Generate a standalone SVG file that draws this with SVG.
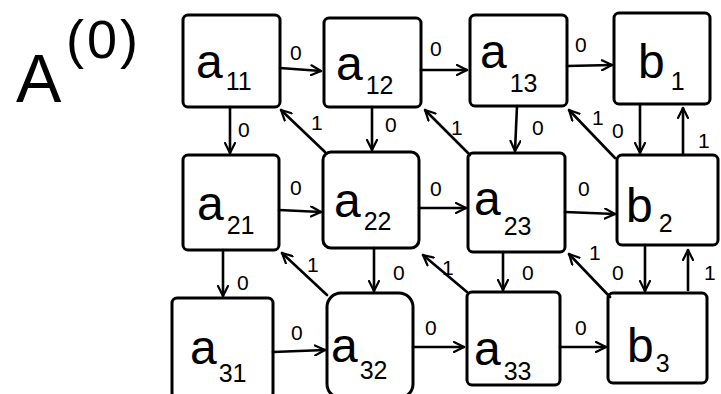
<svg xmlns="http://www.w3.org/2000/svg" width="721" height="394" viewBox="0 0 721 394">
<defs>
<style>
.box{fill:none;stroke:#000;stroke-width:3;stroke-linejoin:round}
.edge{fill:none;stroke:#000;stroke-width:2.6;stroke-linecap:round}
.lbl{font-family:"Liberation Sans",Arial,sans-serif;font-size:48px;fill:#000}
.sub{font-size:25px}
.el{font-family:"Liberation Sans",Arial,sans-serif;font-size:21px;fill:#000}
.title{font-family:"Liberation Sans",Arial,sans-serif;fill:#000}
</style>
<marker id="ah" viewBox="0 0 12 12" refX="11" refY="6" markerWidth="12" markerHeight="12" markerUnits="userSpaceOnUse" orient="auto">
<path d="M1,1 L11,6 L1,11" fill="none" stroke="#000" stroke-width="2.2" stroke-linecap="round" stroke-linejoin="round"/>
</marker>
</defs>
<rect width="721" height="394" fill="#fff"/>
<g id="title">
<text class="title" x="16" y="102" font-size="68">A</text>
<text class="title" x="66" y="58" font-size="54" letter-spacing="3">(0)</text>
</g>
<g id="connectors">
<path class="edge" d="M280,68 L321,71" marker-end="url(#ah)"/>
<path class="edge" d="M421,70 L467,70" marker-end="url(#ah)"/>
<path class="edge" d="M567,66 L612,65" marker-end="url(#ah)"/>
<path class="edge" d="M279,210 L321,212" marker-end="url(#ah)"/>
<path class="edge" d="M419,208 L466,208" marker-end="url(#ah)"/>
<path class="edge" d="M565,212 L615,214" marker-end="url(#ah)"/>
<path class="edge" d="M273,352 L325,350" marker-end="url(#ah)"/>
<path class="edge" d="M413,347 L464,347" marker-end="url(#ah)"/>
<path class="edge" d="M560,347 L606,347" marker-end="url(#ah)"/>
<path class="edge" d="M230,107 L230,153" marker-end="url(#ah)"/>
<path class="edge" d="M372,107 L372,150" marker-end="url(#ah)"/>
<path class="edge" d="M517,106 L515,151" marker-end="url(#ah)"/>
<path class="edge" d="M640,104 L640,153" marker-end="url(#ah)"/>
<path class="edge" d="M223,250 L223,296" marker-end="url(#ah)"/>
<path class="edge" d="M374,248 L374,291" marker-end="url(#ah)"/>
<path class="edge" d="M503,252 L503,290" marker-end="url(#ah)"/>
<path class="edge" d="M645,245 L645,291" marker-end="url(#ah)"/>
<path class="edge" d="M683,154 L683,108" marker-end="url(#ah)"/>
<path class="edge" d="M688,290 L688,250" marker-end="url(#ah)"/>
<path class="edge" d="M325,152 L281,110" marker-end="url(#ah)"/>
<path class="edge" d="M470,155 L425,110" marker-end="url(#ah)"/>
<path class="edge" d="M615,158 L569,110" marker-end="url(#ah)"/>
<path class="edge" d="M327,295 L282,253" marker-end="url(#ah)"/>
<path class="edge" d="M467,292 L423,255" marker-end="url(#ah)"/>
<path class="edge" d="M610,297 L569,254" marker-end="url(#ah)"/>
<text class="el" x="290" y="60">0</text>
<text class="el" x="430" y="56">0</text>
<text class="el" x="575" y="52">0</text>
<text class="el" x="290" y="195">0</text>
<text class="el" x="430" y="196">0</text>
<text class="el" x="578" y="196">0</text>
<text class="el" x="291" y="340">0</text>
<text class="el" x="425" y="335">0</text>
<text class="el" x="575" y="335">0</text>
<text class="el" x="238" y="137">0</text>
<text class="el" x="385" y="132">0</text>
<text class="el" x="532" y="135">0</text>
<text class="el" x="612" y="138">0</text>
<text class="el" x="237" y="290">0</text>
<text class="el" x="393" y="280">0</text>
<text class="el" x="522" y="280">0</text>
<text class="el" x="612" y="280">0</text>
<text class="el" x="698" y="148">1</text>
<text class="el" x="704" y="280">1</text>
<text class="el" x="311" y="130">1</text>
<text class="el" x="451" y="135">1</text>
<text class="el" x="592" y="125">1</text>
<text class="el" x="307" y="272">1</text>
<text class="el" x="442" y="275">1</text>
<text class="el" x="589" y="260">1</text>
</g>
<g id="a11"><rect class="box" x="183" y="15" width="97" height="92" rx="5"/><text class="lbl" x="196" y="78">a<tspan class="sub" dx="3" dy="12">11</tspan></text></g>
<g id="a12"><rect class="box" x="324" y="18" width="97" height="89" rx="5"/><text class="lbl" x="336" y="80">a<tspan class="sub" dx="3" dy="14">12</tspan></text></g>
<g id="a13"><rect class="box" x="470" y="15" width="97" height="91" rx="5"/><text class="lbl" x="480" y="68">a<tspan class="sub" dx="3" dy="24">13</tspan></text></g>
<g id="b1"><rect class="box" x="614" y="13" width="96" height="91" rx="5"/><text class="lbl" x="638" y="78">b<tspan class="sub" dx="6" dy="12">1</tspan></text></g>
<g id="a21"><rect class="box" x="183" y="155" width="96" height="95" rx="5"/><text class="lbl" x="197" y="220">a<tspan class="sub" dx="3" dy="14">21</tspan></text></g>
<g id="a22"><rect class="box" x="323" y="152" width="96" height="96" rx="8"/><text class="lbl" x="334" y="217">a<tspan class="sub" dx="3" dy="13">22</tspan></text></g>
<g id="a23"><rect class="box" x="468" y="153" width="97" height="99" rx="5"/><text class="lbl" x="474" y="215">a<tspan class="sub" dx="3" dy="20">23</tspan></text></g>
<g id="b2"><rect class="box" x="617" y="155" width="101" height="90" rx="5"/><text class="lbl" x="626" y="222">b<tspan class="sub" dx="6" dy="10">2</tspan></text></g>
<g id="a31"><rect class="box" x="172" y="298" width="101" height="100" rx="5"/><text class="lbl" x="190" y="364">a<tspan class="sub" dx="2" dy="18">31</tspan></text></g>
<g id="a32"><rect class="box" x="327" y="293" width="86" height="105" rx="14"/><text class="lbl" x="331" y="362">a<tspan class="sub" dx="2" dy="17">32</tspan></text></g>
<g id="a33"><rect class="box" x="467" y="292" width="93" height="93" rx="5"/><text class="lbl" x="474" y="365">a<tspan class="sub" dx="3" dy="15">33</tspan></text></g>
<g id="b3"><rect class="box" x="608" y="293" width="99" height="90" rx="5"/><text class="lbl" x="627" y="362">b<tspan class="sub" dx="2" dy="10">3</tspan></text></g>
</svg>
